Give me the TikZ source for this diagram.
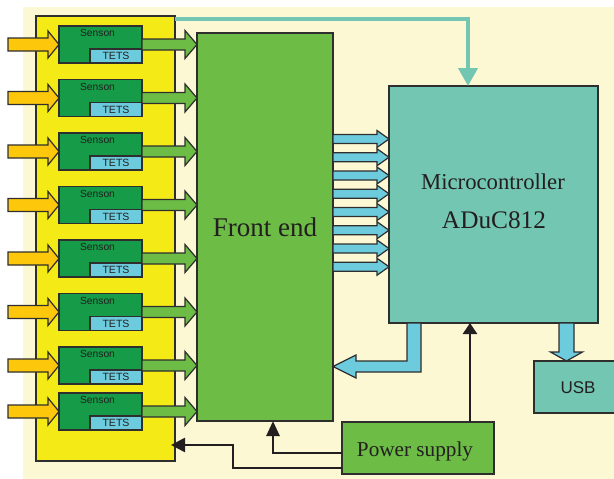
\documentclass[tikz,border=0pt]{standalone}
\usepackage{fontspec}
\setmainfont{Liberation Serif}
\newfontfamily\arialf{Liberation Sans}
\usetikzlibrary{arrows.meta,calc}
\definecolor{cream}{HTML}{FCF8D3}
\definecolor{yel}{HTML}{F4EA16}
\definecolor{sgreen}{HTML}{169B48}
\definecolor{lblue}{HTML}{6CCBDC}
\definecolor{orng}{HTML}{FDC70C}
\definecolor{lgreen}{HTML}{6CBC45}
\definecolor{mcteal}{HTML}{73C7B2}
\definecolor{edge}{HTML}{2E2E2E}
\definecolor{ink}{HTML}{231F20}
\tikzset{
  pics/barrow/.style n args={4}{code={%
    \path[pic actions] (0,0) -- (-#3,#2) -- (-#3,#1) -- (-#4,#1) -- (-#4,-#1) -- (-#3,-#1) -- (-#3,-#2) -- cycle;}},
}
\begin{document}
\begin{tikzpicture}[x=1pt,y=-1pt,
  box/.style={draw=edge, line width=1.5pt, rectangle, inner sep=0pt, outer sep=0pt},
  blk/.style={draw=ink, line width=2.6pt, -{Triangle[length=14pt,width=14pt]}},
  barr/.style={draw=edge, line width=1.2pt, line join=miter},
  txtserif/.style={text=ink, font=\fontsize{#1}{#1}\selectfont},
  txtsans/.style={text=ink, font=\arialf\fontsize{#1}{#1}\selectfont}]
\useasboundingbox (0,0) rectangle (614,479);
\fill[cream] (23,7) rectangle (614,479);

% main blocks
\node[box, fill=yel, minimum width=139pt, minimum height=445pt, anchor=north west] (yel) at (36,16) {};
\node[box, fill=lgreen, minimum width=136pt, minimum height=388pt, anchor=north west, txtserif=27] (fe) at (197,33) {Front end};
\node[box, fill=mcteal, minimum width=209pt, minimum height=237pt, anchor=north west] (mc) at (389,86) {};
\node[txtserif=22.7, anchor=base] (mct1) at (493,189) {Microcontroller};
\node[txtserif=25.3, anchor=base] (mct2) at (494,228) {ADuC812};
\node[box, fill=mcteal, minimum width=90pt, minimum height=52pt, anchor=north west] (usb) at (534,361) {};
\node[txtsans=17, anchor=base] (usbt) at (578,393) {USB};
\node[box, fill=lgreen, minimum width=152pt, minimum height=52pt, anchor=north west] (ps) at (342,422) {};
\node[txtserif=21.2, anchor=base] (pst) at (415,456) {Power supply};

% teal line from sensor block to microcontroller
\draw[line width=4pt, draw=mcteal, -{Triangle[length=18pt,width=19pt]}]
  ($(yel.north east)+(0,3)$) -| (mc.north -| 468,0);

% sensors
\foreach \i/\t in {1/26,2/79.5,3/133,4/186.5,5/240,6/293.5,7/347,8/393} {
  \node[box, fill=sgreen, minimum width=83pt, minimum height=37pt, anchor=north west] (s\i) at (59,\t) {};
  \node[box, fill=lblue, minimum width=52pt, minimum height=14pt, anchor=south east, txtsans=10.5] (t\i) at (s\i.south east) {TETS};
  \node[txtsans=10.3, anchor=base] (sl\i) at ($(s\i.north west)+(38.5,10.7)$) {Senson};
  \pic[barr, fill=orng] at (s\i.west) {barrow={6.5}{13.5}{11}{51}};
  \pic[barr, fill=lgreen] at (fe.west |- s\i.east) {barrow={5.5}{14}{12}{55}};
}

% data bus arrows front end -> microcontroller
\foreach \k in {0,...,7} {
  \pic[barr, fill=lblue] at (mc.west |- 0,{139+18.25*\k}) {barrow={4.5}{8.5}{12}{56}};
}

% feedback arrow microcontroller -> front end
\draw[barr, fill=lblue] (fe.east |- 0,366.5) -- (356,355) -- (356,361) -- (407,361) -- (mc.south -| 407,0)
  -- (mc.south -| 421,0) -- (421,372) -- (356,372) -- (356,378) -- cycle;

% USB arrow
\pic[barr, fill=lblue, rotate=-90] at (usb.north -| 566.5,0) {barrow={7.5}{16}{9}{38}};

% power lines
\draw[blk, -{Triangle[length=11pt,width=14pt]}] (ps.north -| 470,0) -- (mc.south -| 470,0);
\draw[blk, -{Triangle[length=15pt,width=13pt]}] (ps.west |- 0,453) -| (fe.south -| 273,0);
\draw[blk, shorten >=-4pt] (ps.west |- 0,468) -| (233,445) -- (yel.east |- 0,445);
\end{tikzpicture}
\end{document}
